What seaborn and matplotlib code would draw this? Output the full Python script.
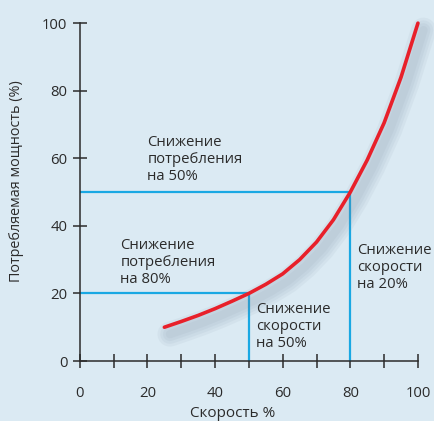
import numpy as np
import pandas as pd
import matplotlib
matplotlib.use("Agg")
import matplotlib.pyplot as plt
import matplotlib.patheffects as pe
import seaborn as sns

speed = [25, 30, 35, 40, 45, 50, 55, 60, 65, 70, 75, 80, 85, 90, 95, 100]
power = [10, 11.7, 13.5, 15.5, 17.7, 20, 22.7, 25.8, 30, 35.2, 41.8, 50, 59.5, 70.5, 84, 100]

ref_speed = [50, 80]
ref_power = [20, 50]

notes = [
    (20, 67, "Снижение\nпотребления\nна 50%"),
    (12, 36.5, "Снижение\nпотребления\nна 80%"),
    (82, 35, "Снижение\nскорости\nна 20%"),
    (52, 17.6, "Снижение\nскорости\nна 50%"),
]

bg = "#dbeaf3"
blue = "#19a8e3"
red = "#e8202a"
dark = "#2b2b2b"

sns.set_theme(style="white")
plt.rcParams["font.family"] = ["Open Sans", "DejaVu Sans"]

df = pd.DataFrame({"speed": speed, "power": power})

fig = plt.figure(figsize=(4.34, 4.21), dpi=100, facecolor=bg)
ax = fig.add_axes([0.184, 0.1425, 0.779, 0.8025])
ax.set_facecolor(bg)

for s, p in zip(ref_speed, ref_power):
    ax.plot([0, s], [p, p], color=blue, lw=1.6, solid_capstyle="butt")
    ax.plot([s, s], [0, p], color=blue, lw=1.6, solid_capstyle="butt")

shadow = [pe.SimpleLineShadow(offset=(4, -5), shadow_color="#6f8597", alpha=0.07, linewidth=w)
          for w in (18, 14, 10, 6)]
sns.lineplot(data=df, x="speed", y="power", ax=ax, color=red, lw=2.6,
             solid_capstyle="round", solid_joinstyle="round", clip_on=False,
             path_effects=shadow + [pe.Normal()])

for x, y, t in notes:
    ax.text(x, y, t, ha="left", va="top", fontsize=10.7, color=dark, linespacing=1.2)

ax.set_xlim(0, 100)
ax.set_ylim(0, 100)
ax.set_xticks(range(0, 101, 20))
ax.set_xticks(range(10, 100, 20), minor=True)
ax.set_yticks(range(0, 101, 20))

for side in ["top", "right"]:
    ax.spines[side].set_visible(False)
for side in ["left", "bottom"]:
    ax.spines[side].set_color(dark)
    ax.spines[side].set_linewidth(1.1)

ax.tick_params(axis="x", which="both", direction="inout", length=10, width=1.1,
               color=dark, pad=13, labelsize=10.7, labelcolor=dark, bottom=True)
ax.tick_params(axis="y", direction="inout", length=10, width=1.1,
               color=dark, pad=4, labelsize=10.7, labelcolor=dark, left=True)

ax.set_xlabel("Скорость %", fontsize=11, color=dark)
ax.set_ylabel("Потребляемая мощность (%)", fontsize=10.4, color=dark)
ax.xaxis.set_label_coords(0.451, -0.155)
ax.yaxis.set_label_coords(-0.186, 0.531)
ax.xaxis.label.set_va("center")
ax.yaxis.label.set_va("center")

fig.savefig("out.png", dpi=100, facecolor=bg)
